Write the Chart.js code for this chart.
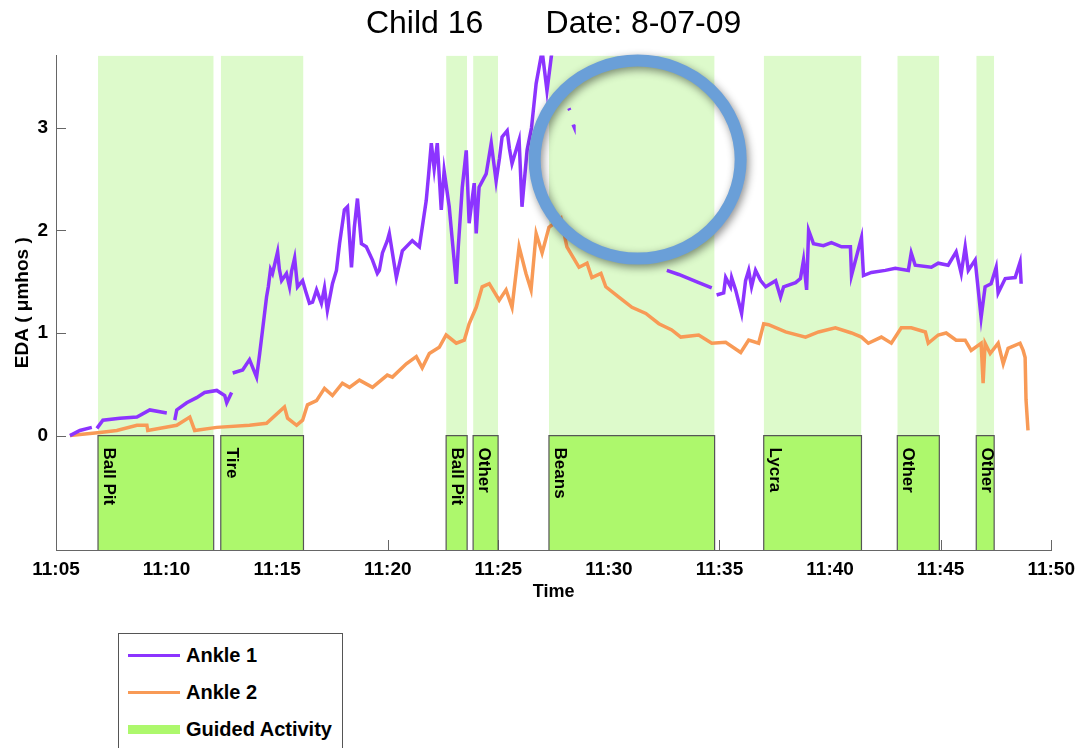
<!DOCTYPE html>
<html>
<head>
<meta charset="utf-8">
<title>Child 16 EDA</title>
<script src="https://cdn.jsdelivr.net/npm/chart.js@4.4.0/dist/chart.umd.min.js"></script>
<style>
    html, body { margin: 0; padding: 0; background: #fff; overflow: hidden; }
    #wrap { position: relative; width: 1083px; height: 748px; }
    #legend {
        position: absolute; left: 118px; top: 633px; width: 223px; height: 140px;
        border: 1px solid #555; background: #fff;
        font: bold 20px "Liberation Sans", Arial, sans-serif; color: #000;
    }
    .item { position: absolute; left: 9px; display: flex; align-items: center; height: 24px; }
    .swatch { width: 52px; margin-right: 6px; }
</style>
</head>
<body>
<div id="wrap">
    <canvas id="edaChart" width="1083" height="748"></canvas>
    <div id="legend"></div>
</div>
<script>
// Time axis in minutes after 11:00
const xTicks = [5, 10, 15, 20, 25, 30, 35, 40, 45, 50];
const yTicks = [0, 1, 2, 3];
const yMin = -1.115;
const yMax = 3.705;

// Ankle 1 sensor (null = gap in recording)
const ankle1Times = [
    5.63, 6.08, 6.62, 6.74, 6.85, 7.12, 7.89, 8.66, 9.24, 10.01,
    10.20, 10.37, 10.46, 10.91, 11.36, 11.72, 12.27, 12.63, 12.72, 12.94,
    12.96, 12.99, 13.44, 13.75, 14.07, 14.21, 14.34, 14.52, 14.60, 14.70,
    14.79, 15.02, 15.10, 15.20, 15.42, 15.56, 15.65, 15.79, 15.92, 16.15,
    16.30, 16.46, 16.60, 16.78, 17.00, 17.14, 17.27, 17.50, 17.68, 17.82,
    18.04, 18.18, 18.36, 18.49, 18.63, 18.81, 19.03, 19.31, 19.53, 19.62,
    19.76, 19.98, 20.07, 20.39, 20.66, 21.11, 21.43, 21.74, 21.85, 21.97,
    22.10, 22.24, 22.42, 22.55, 22.78, 22.92, 23.10, 23.19, 23.37, 23.55,
    23.68, 23.91, 24.00, 24.13, 24.45, 24.68, 24.90, 25.05, 25.17, 25.40,
    25.50, 25.62, 25.94, 26.07, 26.30, 26.50, 26.71, 26.98, 27.20, 27.43,
    27.83, 27.90, 28.19, 28.23, 28.30, 28.38, 28.42, 30.00, 32.62, 33.16,
    34.06, 34.65, 34.75, 34.87, 35.19, 35.28, 35.50, 35.55, 35.73, 36.00,
    36.18, 36.32, 36.45, 36.63, 36.86, 37.09, 37.54, 37.76, 37.90, 38.44,
    38.66, 38.80, 38.94, 39.03, 39.25, 39.70, 40.06, 40.52, 40.92, 40.97,
    41.42, 41.51, 41.87, 42.50, 42.95, 43.54, 43.67, 43.85, 44.58, 44.89,
    45.34, 45.70, 45.93, 46.11, 46.25, 46.56, 46.70, 46.83, 47.01, 47.28,
    47.51, 47.60, 47.92, 48.37, 48.59, 48.64
];
const ankle1Values = [
    0.00, 0.05, 0.08, null, 0.07, 0.15, 0.17, 0.18, 0.25, 0.22,
    null, 0.15, 0.25, 0.32, 0.37, 0.42, 0.44, 0.39, 0.32, 0.42,
    null, 0.61, 0.64, 0.74, 0.57, 0.80, 1.03, 1.35, 1.45, 1.62,
    1.58, 1.79, 1.62, 1.51, 1.58, 1.45, 1.60, 1.73, 1.45, 1.51,
    1.40, 1.29, 1.30, 1.42, 1.29, 1.44, 1.22, 1.48, 1.61, 1.87,
    2.20, 2.23, 1.64, 2.03, 2.31, 1.87, 1.84, 1.71, 1.58, 1.61,
    1.78, 1.90, 1.97, 1.54, 1.80, 1.90, 1.84, 2.29, 2.55, 2.85,
    2.60, 2.85, 2.20, 2.58, 2.23, 1.90, 1.48, 1.84, 2.42, 2.78,
    2.07, 2.46, 1.97, 2.42, 2.55, 2.85, 2.48, 2.70, 2.91, 2.97,
    2.80, 2.65, 2.88, 2.23, 2.78, 3.00, 3.43, 3.75, 3.36, 3.75,
    3.75, null, 3.19, 3.17, null, 3.03, 3.01, null, 1.61, 1.57,
    1.49, 1.44, null, 1.37, 1.39, 1.54, 1.45, 1.54, 1.42, 1.19,
    1.51, 1.61, 1.45, 1.61, 1.51, 1.45, 1.51, 1.35, 1.45, 1.49,
    1.53, 1.71, 1.42, 2.00, 1.87, 1.85, 1.88, 1.84, 1.84, 1.56,
    1.93, 1.56, 1.59, 1.61, 1.63, 1.61, 1.78, 1.66, 1.64, 1.68,
    1.66, 1.79, 1.58, 1.84, 1.61, 1.71, 1.42, 1.15, 1.45, 1.48,
    1.64, 1.39, 1.53, 1.54, 1.69, 1.48
];

// Ankle 2 sensor
const ankle2Times = [
    5.63, 6.99, 7.75, 8.66, 9.11, 9.15, 10.46, 11.05, 11.27, 12.27, 13.75, 14.52, 15.33, 15.47, 15.88,
    16.15, 16.37, 16.78, 17.14, 17.50, 17.95, 18.27, 18.72, 19.31, 19.98, 20.21, 20.84, 21.29, 21.56,
    21.88, 22.33, 22.64, 23.10, 23.46, 23.68, 24.00, 24.27, 24.59, 25.04, 25.35, 25.62, 25.80, 25.94,
    26.25, 26.48, 26.71, 26.98, 27.29, 27.83, 28.10, 28.65, 29.01, 29.23, 29.64, 29.86, 30.45, 31.04,
    31.67, 32.26, 32.84, 33.25, 34.06, 34.65, 35.28, 35.96, 36.32, 36.77, 37.00, 37.22, 37.99, 38.89,
    39.48, 40.24, 40.97, 41.42, 41.73, 42.32, 42.77, 43.22, 43.67, 44.31, 44.44, 44.89, 45.25, 45.70,
    46.11, 46.38, 46.83, 46.92, 47.01, 47.24, 47.60, 47.83, 48.05, 48.59, 48.73, 48.82, 48.86, 48.95
];
const ankle2Values = [
    0.00, 0.03, 0.05, 0.10, 0.10, 0.05, 0.10, 0.18, 0.05, 0.08, 0.10, 0.12, 0.28, 0.17, 0.10,
    0.15, 0.30, 0.34, 0.46, 0.39, 0.51, 0.47, 0.54, 0.47, 0.59, 0.57, 0.70, 0.77, 0.66,
    0.80, 0.86, 0.98, 0.90, 0.93, 1.09, 1.25, 1.45, 1.48, 1.32, 1.42, 1.25, 1.58, 1.84,
    1.58, 1.42, 1.97, 1.78, 2.03, 2.12, 1.84, 1.64, 1.68, 1.54, 1.58, 1.45, 1.35, 1.25,
    1.19, 1.09, 1.03, 0.96, 0.98, 0.90, 0.91, 0.81, 0.93, 0.90, 1.09, 1.08, 1.01, 0.96,
    1.01, 1.05, 1.00, 0.96, 0.90, 0.96, 0.90, 1.05, 1.05, 1.01, 0.90, 0.98, 1.00, 0.93,
    0.93, 0.83, 0.90, 0.51, 0.90, 0.80, 0.90, 0.70, 0.85, 0.90, 0.83, 0.76, 0.35, 0.05
];

// Guided activities
const activityNames = ['Ball Pit', 'Tire', 'Ball Pit', 'Other', 'Beans', 'Lycra', 'Other', 'Other'];
const activityStart = [6.90, 12.45, 22.64, 23.86, 27.29, 37.00, 43.04, 46.61];
const activityEnd = [12.13, 16.19, 23.59, 24.99, 34.78, 41.42, 44.94, 47.42];

// Annotation circle (minutes, EDA)
const circleCenter = [31.3, 2.69];

const fontFamily = '"Liberation Sans", Arial, Helvetica, sans-serif';
Chart.defaults.font.family = fontFamily;
Chart.defaults.color = '#000';

function toPoints(times, values) {
    return times.map((t, i) => ({ x: t, y: values[i] }));
}

// light band above zero and activity bar below zero, one segment per activity
const bandPoints = [];
const barPoints = [];
activityStart.forEach((s, i) => {
    const e = activityEnd[i];
    bandPoints.push({ x: s, y: yMax }, { x: e, y: yMax }, { x: e, y: null });
    barPoints.push({ x: s, y: yMin }, { x: s, y: 0 }, { x: e, y: 0 }, { x: e, y: yMin }, { x: e, y: null });
});

// MATLAB style inward tick marks
const axisTicks = {
    id: 'axisTicks',
    beforeDatasetsDraw(chart) {
        const { ctx, chartArea: a, scales: { x, y } } = chart;
        ctx.save();
        ctx.strokeStyle = '#666';
        ctx.lineWidth = 1;
        ctx.beginPath();
        yTicks.forEach(v => {
            const py = Math.round(y.getPixelForValue(v)) + 0.5;
            ctx.moveTo(a.left, py);
            ctx.lineTo(a.left + 10, py);
        });
        xTicks.forEach(v => {
            const px = Math.round(x.getPixelForValue(v)) + 0.5;
            ctx.moveTo(px, a.bottom);
            ctx.lineTo(px, a.bottom - 10);
        });
        ctx.stroke();
        ctx.restore();
    }
};

const activityLabels = {
    id: 'activityLabels',
    afterDatasetsDraw(chart) {
        const { ctx, scales: { x, y } } = chart;
        ctx.save();
        ctx.font = 'bold 17px ' + fontFamily;
        ctx.fillStyle = '#000';
        ctx.textBaseline = 'alphabetic';
        activityNames.forEach((name, i) => {
            const px = x.getPixelForValue(activityStart[i]);
            const py = y.getPixelForValue(0);
            ctx.save();
            ctx.translate(px + 6, py + 12);
            ctx.rotate(Math.PI / 2);
            ctx.fillText(name, 0, 0);
            ctx.restore();
        });
        ctx.restore();
    }
};

const circleNote = {
    id: 'circleNote',
    afterDraw(chart) {
        const { ctx, scales: { x, y } } = chart;
        const cx = x.getPixelForValue(circleCenter[0]);
        const cy = y.getPixelForValue(circleCenter[1]);
        ctx.save();
        ctx.shadowColor = 'rgba(0, 0, 0, 0.45)';
        ctx.shadowBlur = 9;
        ctx.shadowOffsetX = 2;
        ctx.shadowOffsetY = 3;
        ctx.beginPath();
        ctx.ellipse(cx, cy, 103, 99, 0, 0, Math.PI * 2);
        ctx.lineWidth = 12;
        ctx.strokeStyle = '#6a9fd8';
        ctx.stroke();
        ctx.restore();
    }
};

const ctx = document.getElementById('edaChart').getContext('2d');
const chart = new Chart(ctx, {
    type: 'line',
    data: {
        datasets: [
            {
                label: 'Ankle 1',
                data: toPoints(ankle1Times, ankle1Values),
                borderColor: 'rgb(140, 52, 255)',
                borderWidth: 3.5,
                pointRadius: 0,
                spanGaps: false,
                order: 1
            },
            {
                label: 'Ankle 2',
                data: toPoints(ankle2Times, ankle2Values),
                borderColor: 'rgb(248, 154, 86)',
                borderWidth: 3.5,
                pointRadius: 0,
                spanGaps: false,
                order: 2
            },
            {
                label: 'Guided Activity',
                data: barPoints,
                borderColor: '#555',
                borderWidth: 1.2,
                backgroundColor: 'rgb(173, 248, 108)',
                fill: 'start',
                pointRadius: 0,
                spanGaps: false,
                order: 3
            },
            {
                label: 'band',
                data: bandPoints,
                borderWidth: 0,
                borderColor: 'rgba(0,0,0,0)',
                backgroundColor: 'rgb(221, 250, 203)',
                fill: 'origin',
                pointRadius: 0,
                spanGaps: false,
                order: 4
            }
        ]
    },
    options: {
        responsive: false,
        devicePixelRatio: 1,
        animation: false,
        layout: { padding: { left: 0, right: 30, top: 0, bottom: 141 } },
        plugins: {
            legend: { display: false },
            tooltip: { enabled: false },
            title: {
                display: true,
                text: 'Child 16       Date: 8-07-09',
                fullSize: false,
                color: '#000',
                font: { size: 32, weight: 'normal' },
                padding: { top: 5, bottom: 12 }
            }
        },
        scales: {
            x: {
                type: 'linear',
                min: 5,
                max: 50,
                grid: { display: false, drawTicks: false },
                border: { display: true, color: '#666', width: 1 },
                afterBuildTicks: scale => { scale.ticks = xTicks.map(v => ({ value: v })); },
                afterFit: scale => { scale.height = 57; },
                ticks: {
                    autoSkip: false,
                    maxRotation: 0,
                    padding: 8,
                    color: '#000',
                    font: { size: 19, weight: 'bold' },
                    callback: v => '11:' + String(v).padStart(2, '0')
                },
                title: {
                    display: true,
                    text: 'Time',
                    color: '#000',
                    font: { size: 18, weight: 'bold' },
                    padding: { top: 0, bottom: 4 }
                }
            },
            y: {
                min: yMin,
                max: yMax,
                grid: { display: false, drawTicks: false },
                border: { display: true, color: '#666', width: 1 },
                afterBuildTicks: scale => { scale.ticks = yTicks.map(v => ({ value: v })); },
                afterFit: scale => { scale.width = 56; },
                ticks: {
                    padding: 8,
                    color: '#000',
                    font: { size: 19, weight: 'bold' }
                },
                title: {
                    display: true,
                    text: 'EDA ( \u03bcmhos )',
                    color: '#000',
                    font: { size: 19, weight: 'bold' },
                    padding: { top: 11, bottom: 0 }
                }
            }
        }
    },
    plugins: [axisTicks, activityLabels, circleNote]
});

// Legend box below the plot
const legendEl = document.getElementById('legend');
chart.data.datasets.slice(0, 3).forEach((ds, i) => {
    const item = document.createElement('div');
    item.className = 'item';
    item.style.top = (9 + i * 37) + 'px';
    const sw = document.createElement('div');
    sw.className = 'swatch';
    const isBar = ds.fill === 'start';
    sw.style.height = isBar ? '9px' : '3px';
    sw.style.background = isBar ? ds.backgroundColor : ds.borderColor;
    const txt = document.createElement('span');
    txt.textContent = ds.label;
    item.appendChild(sw);
    item.appendChild(txt);
    legendEl.appendChild(item);
});
</script>
</body>
</html>
